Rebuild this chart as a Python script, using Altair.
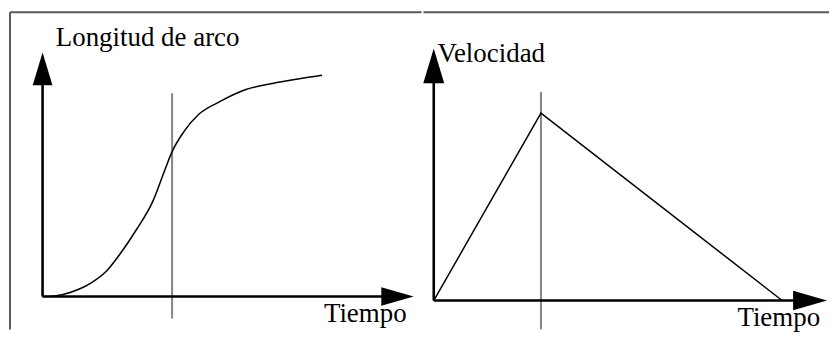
import altair as alt
import pandas as pd

# ---- data ----
# left panel: arc length vs time
arc_t = [0, 0.47, 0.79, 1.44, 1.88, 2.46, 2.97, 3.62, 4.25, 4.72, 5.0, 5.47, 6.03, 6.82, 7.85, 8.87, 10.79]
arc_s = [0, 0.03, 0.09, 0.35, 0.62, 1.14, 1.89, 3.02, 4.29, 5.72, 6.55, 7.48, 8.24, 8.80, 9.36, 9.63, 10.0]
arc_marker_t = 5.0
# right panel: velocity vs time (triangle profile)
vel_t = [0, 4, 13]
vel_v = [0, 10, 0]
vel_marker_t = 4

left_labels = {"y": "Longitud de arco", "x": "Tiempo"}
right_labels = {"y": "Velocidad", "x": "Tiempo"}

FONT = "Liberation Serif"
FS = 27
FRAME = "#5a5a5a"
GRAY = "#858585"

UP = "M0,-1L0.6,1L-0.6,1Z"
RIGHT = "M1,0L-1,-0.57L-1,0.57Z"


def panel(curve_df, interp, xs, ys, marker, mlo, mhi, yarrow, xarrow,
          ysize, xsize, ylab, ylab_pos, xlab, xlab_pos, width, height, frame_left):
    X = lambda f: alt.X(f, type="quantitative", scale=xs, axis=None)
    Y = lambda f: alt.Y(f, type="quantitative", scale=ys, axis=None)
    layers = []
    # frame
    top = alt.Chart(alt.Data(values=[{}])).mark_rule(color=FRAME, strokeWidth=2).encode(
        x=alt.value(2 if frame_left else 0), x2=alt.value(width), y=alt.value(3.7))
    layers.append(top)
    if frame_left:
        left = alt.Chart(alt.Data(values=[{}])).mark_rule(color=FRAME, strokeWidth=2).encode(
            x=alt.value(2), y=alt.value(3.7), y2=alt.value(height))
        layers.append(left)
    # marker line
    mk = alt.Chart(pd.DataFrame({"t": [marker], "a": [mlo], "b": [mhi]})).mark_rule(
        color=GRAY, strokeWidth=2).encode(x=X("t"), y=Y("a"), y2=alt.Y2("b"))
    layers.append(mk)
    # axes
    ax = alt.Chart(pd.DataFrame({"t": [0], "a": [0], "b": [yarrow]})).mark_rule(
        color="black", strokeWidth=2.6).encode(x=X("t"), y=Y("a"), y2=alt.Y2("b"))
    ay = alt.Chart(pd.DataFrame({"t": [0], "t2": [xarrow], "a": [0]})).mark_rule(
        color="black", strokeWidth=2.6).encode(x=X("t"), x2=alt.X2("t2"), y=Y("a"))
    layers += [ax, ay]
    hu = alt.Chart(pd.DataFrame({"t": [0], "a": [yarrow]})).mark_point(
        shape=UP, filled=True, color="black", opacity=1, size=ysize ** 2, strokeWidth=0
    ).encode(x=X("t"), y=Y("a"))
    hr = alt.Chart(pd.DataFrame({"t": [xarrow], "a": [0]})).mark_point(
        shape=RIGHT, filled=True, color="black", opacity=1, size=xsize ** 2, strokeWidth=0
    ).encode(x=X("t"), y=Y("a"))
    layers += [hu, hr]
    # curve
    cv = alt.Chart(curve_df).mark_line(color="black", strokeWidth=1.5, interpolate=interp).encode(
        x=X("t"), y=Y("v"), order="i:Q")
    layers.append(cv)
    # labels
    for lab, pos in ((ylab, ylab_pos), (xlab, xlab_pos)):
        tx = alt.Chart(pd.DataFrame({"t": [pos[0]], "a": [pos[1]], "lab": [lab]})).mark_text(
            font=FONT, fontSize=FS, align="left"
        ).encode(x=X("t"), y=Y("a"), text="lab:N", color=alt.value("black"))
        layers.append(tx)
    return alt.layer(*layers).properties(width=width, height=height)


left_df = pd.DataFrame({"t": arc_t, "v": arc_s, "i": range(len(arc_t))})
right_df = pd.DataFrame({"t": vel_t, "v": vel_v, "i": range(len(vel_t))})

left = panel(
    left_df, "monotone",
    alt.Scale(domain=[0, 10], range=[34.7, 294.7], nice=False, zero=False),
    alt.Scale(domain=[0, 10], range=[289, 67], nice=False, zero=False),
    arc_marker_t, -0.99, 9.19, 10.29, 13.7, 33, 32.5,
    left_labels["y"], (0.51, 11.31), left_labels["x"], (10.86, -1.16),
    415, 322, True)

right = panel(
    right_df, "linear",
    alt.Scale(domain=[0, 13], range=[10.3, 360.0], nice=False, zero=False),
    alt.Scale(domain=[0, 10], range=[293, 105], nice=False, zero=False),
    vel_marker_t, -1.54, 11.14, 12.53, 14.04, 35, 34,
    right_labels["y"], (0.14, 12.73), right_labels["x"], (11.33, -1.38),
    407, 322, False)

chart = alt.hconcat(left, right, spacing=0).resolve_scale(x="independent", y="independent").properties(
    padding=0, background="white"
).configure(font=FONT).configure_text(font=FONT, baseline="alphabetic").configure_view(stroke=None)

chart.save("out.html", embed_options={"renderer": "svg", "actions": False})
